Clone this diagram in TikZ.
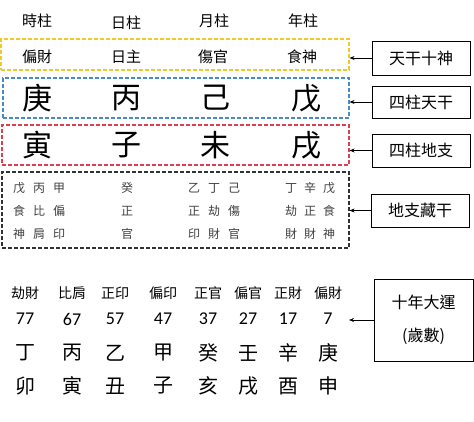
\documentclass[tikz,border=0pt]{standalone}
\usepackage{fontspec}
\setmainfont{Noto Sans CJK TC}
\newfontfamily\numfont{Carlito}
\usetikzlibrary{positioning,arrows.meta}
\definecolor{boxyellow}{RGB}{240,200,40}
\definecolor{boxblue}{RGB}{70,140,200}
\definecolor{boxred}{RGB}{225,60,80}
\definecolor{boxgray}{RGB}{50,50,50}

\begin{document}
\begin{tikzpicture}[x=1pt, y=-1pt]
    \tikzset{
        gbox/.style={draw=#1, dash pattern=on 4pt off 2pt, line width=1.1pt, inner sep=0pt},
        lbox/.style={draw, line width=0.9pt, minimum width=98pt, inner sep=0pt, font=\fontsize{16}{16}\selectfont},
        arr/.style={-{Stealth[length=5pt,width=4pt]}, line width=0.8pt},
        headtxt/.style={font=\fontsize{15}{15}\selectfont},
        bigtxt/.style={font=\fontsize{30}{30}\selectfont},
        hidtxt/.style={font=\fontsize{12}{12}\selectfont, text=black!75},
        godtxt/.style={font=\fontsize{14}{14}\selectfont},
        numtxt/.style={font=\numfont\fontsize{18}{18}\selectfont},
        lucktxt/.style={font=\fontsize{20}{20}\selectfont}
    }
    \useasboundingbox (0,0) rectangle (474,421);

        % group boxes
        \node[gbox=boxyellow, minimum width=348pt, minimum height=31pt] (gods) at (175,54.5) {};
        \node[gbox=boxblue, minimum width=346pt, minimum height=40pt] (stems) at (176,98) {};
        \node[gbox=boxred, minimum width=347pt, minimum height=40pt] (branches) at (175.5,145) {};
        \node[gbox=boxgray, minimum width=347pt, minimum height=76pt] (hidden) at (175.5,210) {};

        % four pillars
        \foreach \t/\x/\y [count=\i] in {時柱/37/21, 日柱/126/23, 月柱/214/21, 年柱/303/21}
            \node[headtxt] (head\i) at (\x,\y) {\t};
        \foreach \t/\x [count=\i] in {偏財/37, 日主/126, 傷官/213, 食神/302}
            \node[headtxt] (god\i) at (\x,57) {\t};
        \foreach \t/\x [count=\i] in {庚/37, 丙/126, 己/215, 戊/306}
            \node[bigtxt] (stem\i) at (\x,98) {\t};
        \foreach \t/\x [count=\i] in {寅/37, 子/126, 未/215, 戌/306}
            \node[bigtxt] (branch\i) at (\x,145) {\t};
        \foreach \x/\a/\b/\c [count=\i] in {19/戊/食/神, 39/丙/比/肩, 59/甲/偏/印, 127/癸/正/官, 194/乙/正/印, 214/丁/劫/財, 234/己/傷/官, 291/丁/劫/財, 310/辛/正/財, 329/戊/食/神} {
            \node[hidtxt] (hid\i a) at (\x,188) {\a};
            \node[hidtxt] (hid\i b) at (\x,211) {\b};
            \node[hidtxt] (hid\i c) at (\x,234) {\c};
        }

        % ten year luck
        \foreach \x/\g/\n/\s/\b [count=\i] in {25/劫財/77/丁/卯, 72/比肩/67/丙/寅, 115/正印/57/乙/丑, 163/偏印/47/甲/子, 208/正官/37/癸/亥, 248/偏官/27/壬/戌, 288/正財/17/辛/酉, 328/偏財/7/庚/申} {
            \node[godtxt] (lgod\i) at (\x,293) {\g};
            \node[numtxt] (lnum\i) at (\x,319) {\n};
            \node[lucktxt] (lstem\i) at (\x,353) {\s};
            \node[lucktxt] (lbranch\i) at (\x,386) {\b};
        }

        % labels
        \node[lbox, minimum height=34pt] (tgss) at (421,58) {天干十神};
        \node[lbox, minimum height=32pt] (szgt) at (421,102) {四柱天干};
        \node[lbox, minimum height=33pt] (szdz) at (421,150.5) {四柱地支};
        \node[lbox, minimum height=33pt] (dzcg) at (420,210.5) {地支藏干};
        \node[lbox, minimum width=99pt, minimum height=82pt, align=center, font=\fontsize{16}{33}\selectfont] (dayun) at (423.5,320) {十年大運\\(歲數)};
        \coordinate (dayunend) at (349,320);

        \draw[arr] (tgss.west) -- (tgss.west -| gods.east);
        \draw[arr] (szgt.west) -- (szgt.west -| stems.east);
        \draw[arr] (szdz.west) -- (szdz.west -| branches.east);
        \draw[arr] (dzcg.west) -- (dzcg.west -| hidden.east);
        \draw[arr] (dayun.west) -- (dayunend);
    \end{tikzpicture}
\end{document}
